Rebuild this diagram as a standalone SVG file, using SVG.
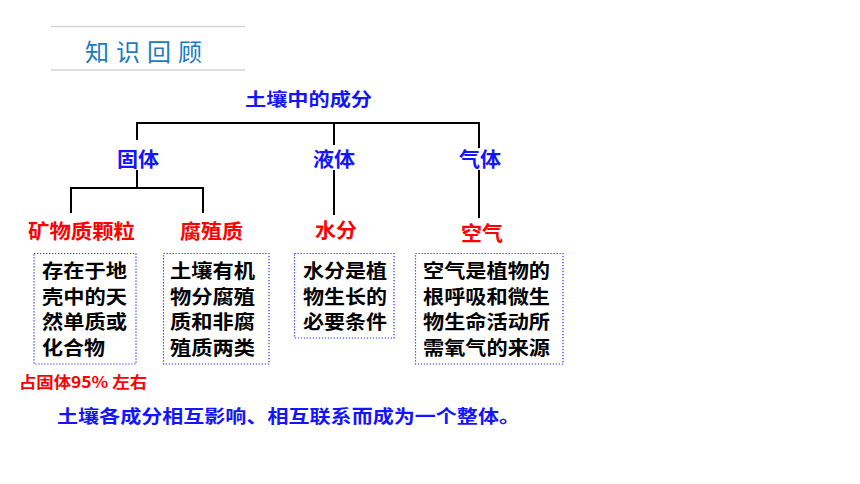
<svg xmlns="http://www.w3.org/2000/svg" width="860" height="484" viewBox="0 0 860 484">
<style>
text{font-family:"Noto Sans CJK SC","Liberation Sans",sans-serif}
.hd{fill:#1b7ac2;font-size:24px}
.bl{fill:#1414ff;font-weight:bold;font-size:18px}
.lv{font-size:20px}
.rd{fill:#ff0000;font-weight:bold;font-size:20px}
.tx{fill:#000;font-weight:bold;font-size:19px}
.box{fill:none;stroke:#2a2aff;stroke-width:1.2;stroke-dasharray:1.2 1.8}
.ln{stroke:#000;stroke-width:2;fill:none}
.rule{stroke:#d4d4d4;stroke-width:1.5}
</style>
<rect width="860" height="484" fill="#fff"/>
<g id="header">
<line class="rule" x1="51" y1="26.5" x2="245" y2="26.5"/>
<line class="rule" x1="51" y1="70" x2="245" y2="70"/>
<text class="hd" x="85" y="61" letter-spacing="7">知识回顾</text>
</g>
<g id="connectors">
<path class="ln" d="M137 140V123H479V148M334 123V145"/>
<path class="ln" d="M137 170V188M71 213V188H203V213"/>
<path class="ln" d="M334 170V215M479 170V218"/>
</g>
<g id="root"><text class="bl" x="245" y="106" textLength="127" lengthAdjust="spacingAndGlyphs">土壤中的成分</text></g>
<g id="solid"><text class="bl lv" x="117" y="167" textLength="42" lengthAdjust="spacingAndGlyphs">固体</text></g>
<g id="liquid"><text class="bl lv" x="313" y="167" textLength="42" lengthAdjust="spacingAndGlyphs">液体</text></g>
<g id="gas"><text class="bl lv" x="459" y="167" textLength="42" lengthAdjust="spacingAndGlyphs">气体</text></g>
<g id="mineral">
<text class="rd" x="28" y="239" textLength="107" lengthAdjust="spacingAndGlyphs">矿物质颗粒</text>
<rect class="box" x="34" y="253.5" width="102" height="110.5"/>
<text class="tx" x="42" y="278" textLength="85" lengthAdjust="spacingAndGlyphs">存在于地</text>
<text class="tx" x="42" y="303.5" textLength="85" lengthAdjust="spacingAndGlyphs">壳中的天</text>
<text class="tx" x="42" y="329" textLength="85" lengthAdjust="spacingAndGlyphs">然单质或</text>
<text class="tx" x="42" y="355" textLength="63" lengthAdjust="spacingAndGlyphs">化合物</text>
<text x="19" y="388" fill="#ff0000" font-weight="bold" font-size="16" textLength="128" lengthAdjust="spacingAndGlyphs">占固体95% 左右</text>
</g>
<g id="humus">
<text class="rd" x="180" y="239" textLength="63" lengthAdjust="spacingAndGlyphs">腐殖质</text>
<rect class="box" x="163.5" y="253.5" width="105.5" height="110.5"/>
<text class="tx" x="170" y="278" textLength="85" lengthAdjust="spacingAndGlyphs">土壤有机</text>
<text class="tx" x="170" y="303.5" textLength="85" lengthAdjust="spacingAndGlyphs">物分腐殖</text>
<text class="tx" x="170" y="329" textLength="85" lengthAdjust="spacingAndGlyphs">质和非腐</text>
<text class="tx" x="170" y="355" textLength="85" lengthAdjust="spacingAndGlyphs">殖质两类</text>
</g>
<g id="water">
<text class="rd" x="315" y="238" textLength="42" lengthAdjust="spacingAndGlyphs">水分</text>
<rect class="box" x="294.5" y="253.5" width="99.5" height="84.5"/>
<text class="tx" x="303" y="278" textLength="84" lengthAdjust="spacingAndGlyphs">水分是植</text>
<text class="tx" x="303" y="303.5" textLength="84" lengthAdjust="spacingAndGlyphs">物生长的</text>
<text class="tx" x="303" y="329" textLength="84" lengthAdjust="spacingAndGlyphs">必要条件</text>
</g>
<g id="air">
<text class="rd" x="461" y="241" textLength="42" lengthAdjust="spacingAndGlyphs">空气</text>
<rect class="box" x="415.5" y="253.5" width="147.5" height="110.5"/>
<text class="tx" x="423" y="278" textLength="127" lengthAdjust="spacingAndGlyphs">空气是植物的</text>
<text class="tx" x="423" y="303.5" textLength="127" lengthAdjust="spacingAndGlyphs">根呼吸和微生</text>
<text class="tx" x="423" y="329" textLength="127" lengthAdjust="spacingAndGlyphs">物生命活动所</text>
<text class="tx" x="423" y="355" textLength="127" lengthAdjust="spacingAndGlyphs">需氧气的来源</text>
</g>
<g id="summary"><text class="bl" x="57" y="423" font-size="19" textLength="463" lengthAdjust="spacingAndGlyphs">土壤各成分相互影响、相互联系而成为一个整体。</text></g>
</svg>
